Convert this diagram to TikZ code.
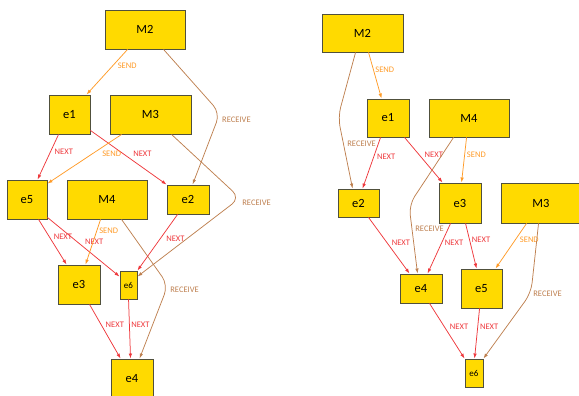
\documentclass[tikz,border=0pt]{standalone}
\usepackage{fontspec}
\setmainfont{Carlito}
\usetikzlibrary{arrows.meta}
\definecolor{boxfill}{RGB}{255,218,0}
\definecolor{boxline}{RGB}{80,80,60}
\definecolor{nextc}{RGB}{238,56,60}
\definecolor{sendc}{RGB}{255,155,40}
\definecolor{recvc}{RGB}{190,128,80}
\tikzset{
  box/.style={draw=boxline, fill=boxfill, line width=0.9pt, inner sep=0pt, font=\fontsize{12.5}{14}\selectfont},
  smallbox/.style={box, font=\fontsize{9}{10}\selectfont},
  edge/.style={line width=0.75pt, -{Latex[length=5pt,width=3.5pt]}},
  nextE/.style={edge, color=nextc},
  sendE/.style={edge, color=sendc},
  recvE/.style={edge, color=recvc, rounded corners=10pt},
  lbl/.style={inner sep=0pt, anchor=west, font=\fontsize{8.5}{9}\selectfont}
}
\begin{document}
\begin{tikzpicture}[x=1pt,y=-1pt]
\useasboundingbox (0,0) rectangle (579,396);
% left graph
\node[box, minimum width=80pt, minimum height=39pt] (LM2) at (145,29.5) {M2};
\node[box, minimum width=41pt, minimum height=39pt] (Le1) at (69.5,114.5) {e1};
\node[box, minimum width=81pt, minimum height=39pt] (LM3) at (150.5,114.5) {M3};
\node[box, minimum width=40pt, minimum height=39pt] (Le5) at (27,199.5) {e5};
\node[box, minimum width=80pt, minimum height=39pt] (LM4) at (107,199.5) {M4};
\node[box, minimum width=42pt, minimum height=29pt] (Le2) at (188,199.5) {e2};
\node[box, minimum width=42pt, minimum height=39pt] (Le3) at (79,284.5) {e3};
\node[smallbox, minimum width=17pt, minimum height=28pt] (Le6) at (128.5,285) {e6};
\node[box, minimum width=42pt, minimum height=39pt] (Le4) at (132,378.5) {e4};
\coordinate (bE2) at (220,113);
\coordinate (bE6) at (240,198);
\coordinate (bE10) at (168,285);
% right graph
\node[box, minimum width=81pt, minimum height=38pt] (RM2) at (362.5,33) {M2};
\node[box, minimum width=42pt, minimum height=38pt] (Re1) at (388,118) {e1};
\node[box, minimum width=80pt, minimum height=38pt] (RM4) at (469,118) {M4};
\node[box, minimum width=41pt, minimum height=28pt] (Re2) at (358.5,203) {e2};
\node[box, minimum width=42pt, minimum height=40pt] (Re3) at (460,203) {e3};
\node[box, minimum width=80pt, minimum height=40pt] (RM3) at (541,203) {M3};
\node[box, minimum width=42pt, minimum height=29pt] (Re4) at (421,288.5) {e4};
\node[box, minimum width=41pt, minimum height=39pt] (Re5) at (481.5,288.5) {e5};
\node[smallbox, minimum width=18pt, minimum height=28pt] (Re6) at (474,373) {e6};
\coordinate (bF2) at (338,117);
\coordinate (bF6) at (409,205);
\coordinate (bF11) at (531,293);
% left edges
\draw[sendE] ([xshift=23pt]LM2.south west) -- node[lbl,pos=.37,xshift=5pt]{SEND} ([xshift=38pt]Le1.north west);
\draw[recvE] ([xshift=59pt]LM2.south west) -- (bE2) -- node[lbl,pos=.1,xshift=4.6pt]{RECEIVE} ([xshift=26pt]Le2.north west);
\draw[nextE] ([xshift=10pt]Le1.south west) -- node[lbl,pos=.39,xshift=4pt]{NEXT} ([xshift=31pt]Le5.north west);
\draw[nextE] ([yshift=4pt]Le1.south east) -- node[lbl,pos=.44,xshift=9pt]{NEXT} (Le2.north west);
\draw[sendE] ([xshift=12pt]LM3.south west) -- node[lbl,pos=.4,xshift=10pt]{SEND} ([yshift=-4pt]Le5.north east);
\draw[recvE] ([xshift=62pt]LM3.south west) -- (bE6) node[lbl,xshift=2pt,yshift=-5pt]{RECEIVE} -- ([yshift=-6pt]Le6.north east);
\draw[nextE] ([xshift=32pt]Le5.south west) -- node[lbl,pos=.39,xshift=4pt]{NEXT} ([xshift=9pt]Le3.north west);
\draw[nextE] ([yshift=2pt]Le5.south east) -- node[lbl,pos=.42,xshift=7pt]{NEXT} ([yshift=-6pt]Le6.north west);
\draw[sendE] ([xshift=34pt]LM4.south west) -- node[lbl,pos=.24,xshift=2pt]{SEND} ([xshift=28pt]Le3.north west);
\draw[recvE] ([xshift=55pt]LM4.south west) -- (bE10) node[lbl,xshift=2pt,yshift=-5pt]{RECEIVE} -- ([xshift=29pt]Le4.north west);
\draw[nextE] ([xshift=11pt]Le2.south west) -- node[lbl,pos=.44,xshift=6pt]{NEXT} (Le6.north east);
\draw[nextE] ([xshift=32pt]Le3.south west) -- node[lbl,pos=.38,xshift=4pt]{NEXT} ([xshift=10pt]Le4.north west);
\draw[nextE] ([xshift=9pt]Le6.south west) -- node[lbl,pos=.43,xshift=1.5pt]{NEXT} ([xshift=20pt]Le4.north west);
% right edges
\draw[sendE] ([xshift=47pt]RM2.south west) -- node[lbl,pos=.38,xshift=1.5pt]{SEND} ([xshift=15pt]Re1.north west);
\draw[recvE] ([xshift=34pt]RM2.south west) -- (bF2) -- node[lbl,pos=.375,xshift=3.5pt]{RECEIVE} ([xshift=15pt]Re2.north west);
\draw[nextE] ([xshift=14pt]Re1.south west) -- node[lbl,pos=.38,xshift=3pt]{NEXT} ([xshift=25pt]Re2.north west);
\draw[nextE] ([xshift=38pt]Re1.south west) -- node[lbl,pos=.39,xshift=5pt]{NEXT} ([xshift=4pt]Re3.north west);
\draw[sendE] ([xshift=38pt]RM4.south west) -- node[lbl,pos=.39,xshift=2pt]{SEND} ([xshift=23pt]Re3.north west);
\draw[recvE] ([xshift=25pt]RM4.south west) -- (bF6) -- node[lbl,pos=.35,xshift=3pt]{RECEIVE} ([xshift=18pt]Re4.north west);
\draw[nextE] ([xshift=31pt]Re2.south west) -- node[lbl,pos=.46,xshift=4pt]{NEXT} ([xshift=10pt]Re4.north west);
\draw[nextE] ([xshift=12pt]Re3.south west) -- node[lbl,pos=.39,xshift=3pt]{NEXT} ([xshift=28pt]Re4.north west);
\draw[nextE] ([xshift=27pt]Re3.south west) -- node[lbl,pos=.37,xshift=2pt]{NEXT} ([xshift=16pt]Re5.north west);
\draw[sendE] ([xshift=26pt]RM3.south west) -- node[lbl,pos=.37,xshift=4.5pt]{SEND} ([xshift=35pt]Re5.north west);
\draw[recvE] ([xshift=38pt]RM3.south west) -- (bF11) node[lbl,xshift=2pt,yshift=-1pt]{RECEIVE} -- (Re6.north east);
\draw[nextE] ([xshift=30pt]Re4.south west) -- node[lbl,pos=.43,xshift=5pt]{NEXT} (Re6.north west);
\draw[nextE] ([xshift=19pt]Re5.south west) -- node[lbl,pos=.37,xshift=2pt]{NEXT} ([xshift=10pt]Re6.north west);
\end{tikzpicture}
\end{document}
